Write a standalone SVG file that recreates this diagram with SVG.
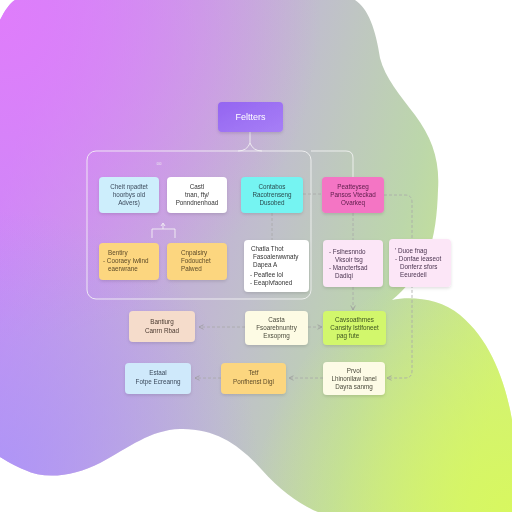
<svg xmlns="http://www.w3.org/2000/svg" xmlns:xlink="http://www.w3.org/1999/xlink" width="512" height="512" viewBox="0 0 512 512">
<defs>
<linearGradient id="base" gradientUnits="userSpaceOnUse" x1="0" y1="200" x2="512" y2="330">
<stop offset="0" stop-color="#c98cf6"/>
<stop offset="0.5" stop-color="#c0bfcc"/>
<stop offset="0.75" stop-color="#bcd7aa"/>
<stop offset="1" stop-color="#cfee80"/>
</linearGradient>
<radialGradient id="tl" gradientUnits="userSpaceOnUse" cx="0" cy="20" r="320">
<stop offset="0" stop-color="#e07cfb" stop-opacity="0.95"/>
<stop offset="1" stop-color="#e07cfb" stop-opacity="0"/>
</radialGradient>
<radialGradient id="bl" gradientUnits="userSpaceOnUse" cx="0" cy="470" r="260">
<stop offset="0" stop-color="#a994f9" stop-opacity="0.8"/>
<stop offset="1" stop-color="#a994f9" stop-opacity="0"/>
</radialGradient>
<radialGradient id="br" gradientUnits="userSpaceOnUse" cx="512" cy="512" r="260">
<stop offset="0" stop-color="#d8f85e" stop-opacity="0.95"/>
<stop offset="1" stop-color="#d8f85e" stop-opacity="0"/>
</radialGradient>
<linearGradient id="purple" x1="0" y1="0" x2="1" y2="1">
<stop offset="0" stop-color="#9465f1"/>
<stop offset="1" stop-color="#a77ff6"/>
</linearGradient>
<filter id="sh" x="-20%" y="-20%" width="140%" height="150%">
<feDropShadow dx="0" dy="1.5" stdDeviation="1.5" flood-color="#000" flood-opacity="0.12"/>
</filter>
<marker id="arr" viewBox="0 0 8 8" refX="7" refY="4" markerWidth="6" markerHeight="6" orient="auto" markerUnits="userSpaceOnUse">
<path d="M1,1 L7,4 L1,7" fill="none" stroke="#9a9a9a" stroke-width="1"/>
</marker>
<path id="blob" d="M0,20 C5,10 10,3 15,0 L355,0 C368,8 376,30 380,58 C385,78 400,95 415,115 C432,138 440,160 438,190 C437,225 432,260 412,280 C405,288 398,295 392,300 C410,296 440,298 460,315 C490,340 505,380 512,420 L512,512 L318,512 C300,505 280,490 262,470 C240,445 215,428 180,429 C150,430 130,447 100,463 C75,476 45,480 25,470 C15,466 5,460 0,457 Z"/>
</defs>
<style>
.n{filter:url(#sh)}
.t{font-family:"Liberation Sans",Arial,sans-serif;font-size:6.3px;text-anchor:middle}
.l{text-anchor:start}
.c{fill:none;stroke:#a8a8a8;stroke-width:0.8;stroke-dasharray:3 2}
.w{fill:none;stroke:#f4f4f4;stroke-opacity:0.85;stroke-width:1}
</style>
<rect width="512" height="512" fill="#ffffff"/>
<use xlink:href="#blob" fill="url(#base)"/>
<use xlink:href="#blob" fill="url(#tl)"/>
<use xlink:href="#blob" fill="url(#bl)"/>
<use xlink:href="#blob" fill="url(#br)"/>

<g id="connectors">
<rect x="87" y="151" width="224" height="148" rx="9" class="w"/>
<path class="w" d="M250,132 V143 M238,151 Q247,151 250,143 Q253,151 262,151"/>
<path class="w" d="M311,151 H346 Q353,151 353,158 V177"/>
<path class="w" d="M152,238 V229 H175 V238 M163,229 V224 M161,226 L163,223 L165,226"/>
<path class="c" d="M303,194 H321"/>
<path class="c" d="M272,213 V240"/>
<path class="c" d="M353,213 V240"/>
<path class="c" d="M353,287 V310" marker-end="url(#arr)"/>
<path class="c" d="M384,195 H405 Q412,195 412,202 V371 Q412,378 405,378 H387" marker-end="url(#arr)"/>
<path class="c" d="M245,327 H199" marker-end="url(#arr)"/>
<path class="c" d="M308,327 H322" marker-end="url(#arr)"/>
<path class="c" d="M323,378 H289" marker-end="url(#arr)"/>
<path class="c" d="M221,378 H195" marker-end="url(#arr)"/>
<text x="159" y="165" class="t" style="font-size:4.5px" fill="#e8e0f0">oo</text>
</g>

<g id="features" class="n">
<rect x="218" y="102" width="65" height="30" rx="4" fill="url(#purple)"/>
<text x="250.5" y="120" class="t" style="font-size:9px" fill="#ffffff">Feltters</text>
</g>

<g id="n-blue1" class="n">
<rect x="99" y="177" width="60" height="36" rx="4" fill="#cdeefc"/>
<text class="t" fill="#3c4a5c"><tspan x="129" y="189">Cheit npadtet</tspan><tspan x="129" y="197">hoorbys old</tspan><tspan x="129" y="205">Advers)</tspan></text>
</g>
<g id="n-white1" class="n">
<rect x="167" y="177" width="60" height="36" rx="4" fill="#ffffff"/>
<text class="t" fill="#333333"><tspan x="197" y="189">Castl</tspan><tspan x="197" y="197">tnan, fty/</tspan><tspan x="197" y="205">Ponndnenhoad</tspan></text>
</g>
<g id="n-cyan" class="n">
<rect x="241" y="177" width="62" height="36" rx="4" fill="#74f4f2"/>
<text class="t" fill="#2c4c50"><tspan x="272" y="189">Contabos</tspan><tspan x="272" y="197">Racotrenseng</tspan><tspan x="272" y="205">Dusobed</tspan></text>
</g>
<g id="n-pink" class="n">
<rect x="322" y="177" width="62" height="36" rx="4" fill="#f474c4"/>
<text class="t" fill="#5a1c48"><tspan x="353" y="189">Peatteyseg</tspan><tspan x="353" y="197">Pansos Vteckad</tspan><tspan x="353" y="205">Ovarkeq</tspan></text>
</g>

<g id="n-yellow1" class="n">
<rect x="99" y="243" width="60" height="37" rx="4" fill="#fcd67f"/>
<text class="t l" fill="#5e4c2a"><tspan x="108" y="255">Bentiry</tspan><tspan x="103" y="263">- Cooraey Iwlind</tspan><tspan x="108" y="271">eaerwrane</tspan></text>
</g>
<g id="n-yellow2" class="n">
<rect x="167" y="243" width="60" height="37" rx="4" fill="#fcd67f"/>
<text class="t l" fill="#5e4c2a"><tspan x="181" y="255">Cnpalsiry</tspan><tspan x="181" y="263">Fodouchet</tspan><tspan x="181" y="271">Palwed</tspan></text>
</g>
<g id="n-white2" class="n">
<rect x="244" y="240" width="65" height="52" rx="4" fill="#ffffff"/>
<text class="t l" fill="#333333"><tspan x="251" y="251">Chatla Thot</tspan><tspan x="253" y="259">Fasoalerwwnaty</tspan><tspan x="253" y="267">Dapea A</tspan><tspan x="250" y="277">- Peaflee lol</tspan><tspan x="250" y="285">- Eeaplvfaoned</tspan></text>
</g>
<g id="n-lpink1" class="n">
<rect x="323" y="240" width="60" height="47" rx="4" fill="#fce6f7"/>
<text class="t l" fill="#4a3450"><tspan x="329" y="254">- Fsihesnndo</tspan><tspan x="335" y="262">Vksoir tsg</tspan><tspan x="329" y="270">- Mancterfsad</tspan><tspan x="335" y="278">Dadiqi</tspan></text>
</g>
<g id="n-lpink2" class="n">
<rect x="389" y="239" width="62" height="48" rx="4" fill="#fce6f7"/>
<text class="t l" fill="#4a3450"><tspan x="395" y="253">&#8217; Duoe fnag</tspan><tspan x="395" y="261">- Donfae ieaseot</tspan><tspan x="400" y="269">Donferz sfors</tspan><tspan x="400" y="277">Eeuredeil</tspan></text>
</g>

<g id="n-peach" class="n">
<rect x="129" y="311" width="66" height="31" rx="4" fill="#f5dccb"/>
<text class="t" fill="#4a3a30"><tspan x="162" y="324">Bantiurg</tspan><tspan x="162" y="333">Canrn Rbad</tspan></text>
</g>
<g id="n-cream1" class="n">
<rect x="245" y="311" width="63" height="34" rx="4" fill="#fdfbe4"/>
<text class="t" fill="#4a4a3c"><tspan x="276.5" y="322">Casta</tspan><tspan x="276.5" y="330">Fsoarebnuntry</tspan><tspan x="276.5" y="338">Exsoprng</tspan></text>
</g>
<g id="n-lime" class="n">
<rect x="323" y="311" width="63" height="34" rx="4" fill="#d2f76c"/>
<text class="t" fill="#3c5220"><tspan x="354.5" y="322">Cavsoathrnes</tspan><tspan x="354.5" y="330">Cansity Istlfoneet</tspan><tspan x="348" y="338">pag fute</tspan></text>
</g>

<g id="n-blue2" class="n">
<rect x="125" y="363" width="66" height="31" rx="4" fill="#cfe9fb"/>
<text class="t" fill="#3c4a5c"><tspan x="158" y="375">Estaal</tspan><tspan x="158" y="384">Fotpe Ecreanng</tspan></text>
</g>
<g id="n-yellow3" class="n">
<rect x="221" y="363" width="65" height="31" rx="4" fill="#fcd67f"/>
<text class="t" fill="#5e4c2a"><tspan x="253.5" y="375">Tetf</tspan><tspan x="253.5" y="384">Ponfhenst Digl</tspan></text>
</g>
<g id="n-cream2" class="n">
<rect x="323" y="362" width="62" height="33" rx="4" fill="#fdfbe6"/>
<text class="t" fill="#4a4a3c"><tspan x="354" y="373">Prvol</tspan><tspan x="354" y="381">Lhinonilaw Ianel</tspan><tspan x="354" y="389">Dayra sanmg</tspan></text>
</g>
</svg>
